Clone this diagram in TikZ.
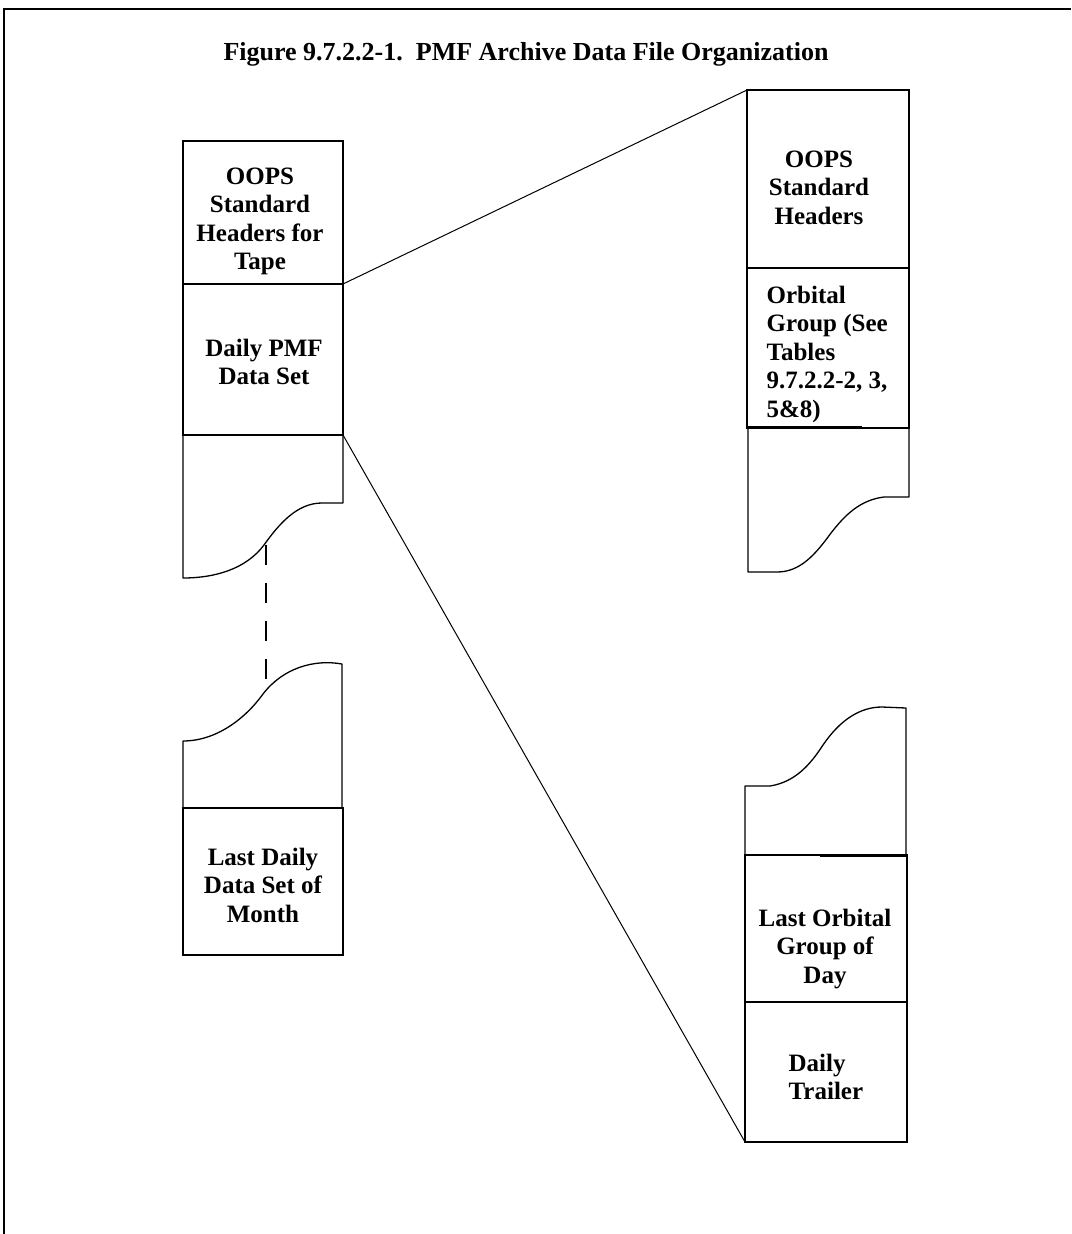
\documentclass[tikz,border=0pt]{standalone}
\usepackage{fontspec}
\setmainfont{Liberation Serif}
\begin{document}
\begin{tikzpicture}[x=1pt,y=-1pt,line width=1.3pt,
  panel/.style={draw,rectangle,inner sep=0pt,outer sep=0pt},
  lbl/.style={inner sep=0pt,align=center,font=\bfseries\fontsize{25}{28.5}\selectfont},
  lbll/.style={inner sep=0pt,align=left,font=\bfseries\fontsize{25}{28.5}\selectfont},
  torn/.style={draw,line join=round},
  conn/.style={draw,line width=1pt}]
\useasboundingbox (0,0) rectangle (1071,1234);
% frame
\draw (4,1234) -- (4,9) -- (1071,9);
% title
\node[inner sep=0pt,anchor=base,font=\bfseries\fontsize{26}{30}\selectfont] (title) at (526,60)
  {Figure 9.7.2.2-1.\ \ PMF Archive Data File Organization};
% left column
\node[panel,minimum width=160,minimum height=143] (L1) at (263,212.5) {};
\node[panel,minimum width=160,minimum height=151] (L2) at (263,359.5) {};
\node[panel,minimum width=160,minimum height=147] (L5) at (263,881.5) {};
\node[lbl,anchor=north] (t1) at (260,167) {OOPS\\Standard\\Headers for\\Tape};
\node[lbl,anchor=north] (t2) at (264,338) {Daily PMF\\Data Set};
\node[lbl,anchor=north] (t5) at (263,847) {Last Daily\\Data Set of\\Month};
% torn piece below L2
\draw[torn] (343,435) -- (343,503) -- (322,503)
  .. controls (297,503) and (279,524) .. (264,545)
  .. controls (246,569) and (215,578) .. (183,578) -- (183,435);
% torn piece above L5
\draw[torn] (183,808) -- (183,741)
  .. controls (216,741) and (245,719) .. (263,694)
  .. controls (283,668) and (314,659) .. (342,664) -- (342,808);
% dashed continuation
\draw[dash pattern=on 20pt off 18pt] (266,545) -- (266,687);
% right column
\node[panel,minimum width=162,minimum height=178] (R1) at (828,179) {};
\node[panel,minimum width=162,minimum height=160] (R2) at (828,348) {};
\node[panel,minimum width=162,minimum height=147] (R5) at (826,928.5) {};
\node[panel,minimum width=162,minimum height=140] (R6) at (826,1072) {};
\node[lbl,anchor=north] (r1) at (819,150) {OOPS\\Standard\\Headers};
\node[lbll,anchor=north west] (r2) at (766,285) {Orbital\\Group (See\\Tables\\9.7.2.2-2, 3,\\5\&8)};
\node[lbl,anchor=north] (r5) at (825,908) {Last Orbital\\Group of\\Day};
\node[lbll,anchor=north west] (r6) at (788,1053) {Daily\\Trailer};
\draw[line width=3pt] (748,427) -- (862,427);
\draw[line width=3pt] (820,855) -- (906,855);
% torn piece below R2
\draw[torn] (909,428) -- (909,497) -- (884,497)
  .. controls (860,500) and (845,515) .. (831,533)
  .. controls (815,555) and (800,572) .. (777,572) -- (748,572) -- (748,428);
% torn piece above R5
\draw[torn] (745,855) -- (745,786) -- (770,786)
  .. controls (795,782) and (810,765) .. (823,745)
  .. controls (840,720) and (860,707) .. (882,707) -- (906,708) -- (906,855);
% connectors
\draw[conn] (L2.north east) -- (R1.north west);
\draw[conn] (L2.south east) -- (R6.south west);
\end{tikzpicture}
\end{document}
